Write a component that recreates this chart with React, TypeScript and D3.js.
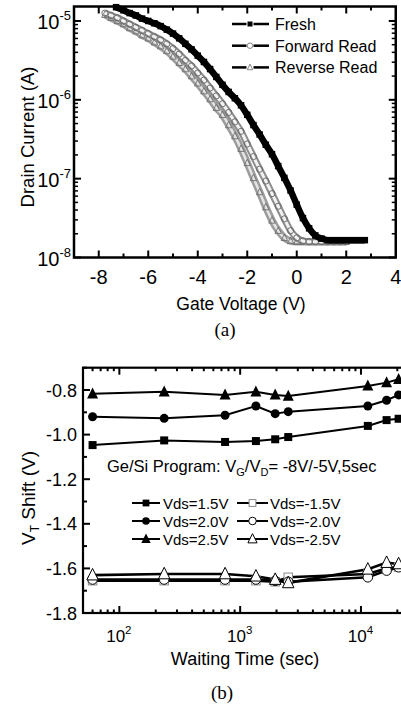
import React from "react";
import * as d3 from "d3";

// ---------- (a) Id-Vg curves: [gate voltage (V), log10 drain current (A)] ----------
const freshCurve: [number, number][] = [
  [-7.3, -4.825], [-7.0, -4.865], [-6.75, -4.9], [-6.5, -4.93], [-6.25, -4.97], [-6.0, -5.0],
  [-5.75, -5.03], [-5.5, -5.065], [-5.25, -5.11], [-5.0, -5.16], [-4.75, -5.22], [-4.5, -5.29],
  [-4.25, -5.36], [-4.0, -5.44], [-3.75, -5.52], [-3.5, -5.61], [-3.25, -5.71], [-3.0, -5.81],
  [-2.75, -5.9], [-2.5, -5.98], [-2.25, -6.07], [-2.0, -6.19], [-1.75, -6.32], [-1.5, -6.44],
  [-1.25, -6.57], [-1.0, -6.69], [-0.75, -6.84], [-0.5, -6.99], [-0.25, -7.15], [0.0, -7.33],
  [0.25, -7.5], [0.5, -7.63], [0.75, -7.72], [1.0, -7.76], [1.25, -7.78], [1.5, -7.78],
  [1.75, -7.78], [2.0, -7.78], [2.25, -7.78], [2.5, -7.78], [2.75, -7.78],
];
const forwardCurve: [number, number][] = [
  [-7.75, -4.9], [-7.5, -4.93], [-7.25, -4.96], [-7.0, -5.0], [-6.75, -5.04], [-6.5, -5.08],
  [-6.25, -5.12], [-6.0, -5.16], [-5.75, -5.2], [-5.5, -5.24], [-5.25, -5.29], [-5.0, -5.35],
  [-4.75, -5.42], [-4.5, -5.5], [-4.25, -5.57], [-4.0, -5.66], [-3.75, -5.75], [-3.5, -5.85],
  [-3.25, -5.95], [-3.0, -6.05], [-2.75, -6.16], [-2.5, -6.28], [-2.25, -6.4], [-2.0, -6.56],
  [-1.75, -6.72], [-1.5, -6.88], [-1.25, -7.03], [-1.0, -7.19], [-0.75, -7.35], [-0.5, -7.51],
  [-0.25, -7.66], [0.0, -7.75], [0.25, -7.79], [0.5, -7.8], [0.75, -7.8], [1.0, -7.8],
  [1.25, -7.8], [1.5, -7.8], [1.75, -7.8], [2.0, -7.8],
];
const reverseCurve: [number, number][] = [
  [-7.75, -4.92], [-7.5, -4.96], [-7.25, -5.0], [-7.0, -5.04], [-6.75, -5.09], [-6.5, -5.13],
  [-6.25, -5.18], [-6.0, -5.22], [-5.75, -5.27], [-5.5, -5.32], [-5.25, -5.38], [-5.0, -5.45],
  [-4.75, -5.53], [-4.5, -5.61], [-4.25, -5.7], [-4.0, -5.79], [-3.75, -5.89], [-3.5, -5.99],
  [-3.25, -6.1], [-3.0, -6.19], [-2.75, -6.32], [-2.5, -6.46], [-2.25, -6.62], [-2.0, -6.8],
  [-1.75, -6.99], [-1.5, -7.17], [-1.25, -7.36], [-1.0, -7.53], [-0.75, -7.66], [-0.5, -7.75],
  [-0.25, -7.79], [0.0, -7.8], [0.25, -7.8], [0.5, -7.8], [0.75, -7.8], [1.0, -7.8],
  [1.25, -7.8], [1.5, -7.8], [1.75, -7.8], [2.0, -7.8],
];
const gateTicks = [-8, -6, -4, -2, 0, 2, 4];
const currentDecades = [-8, -7, -6, -5];
const legendA = ["Fresh", "Forward Read", "Reverse Read"];

// ---------- (b) VT shift vs waiting time ----------
const waitTimes = [60, 235, 750, 1350, 1950, 2500, 11400, 16300, 20500];
const vdsP15 = [-1.047, -1.026, -1.033, -1.029, -1.021, -1.011, -0.961, -0.935, -0.929];
const vdsP20 = [-0.92, -0.927, -0.913, -0.872, -0.906, -0.897, -0.872, -0.846, -0.822];
const vdsP25 = [-0.817, -0.808, -0.822, -0.808, -0.822, -0.827, -0.782, -0.767, -0.752];
const vdsN15 = [-1.655, -1.655, -1.655, -1.655, -1.66, -1.64, -1.625, -1.6, -1.594];
const vdsN20 = [-1.65, -1.65, -1.65, -1.65, -1.656, -1.66, -1.64, -1.61, -1.595];
const vdsN25 = [-1.63, -1.625, -1.625, -1.635, -1.65, -1.665, -1.604, -1.574, -1.58];
const vtTicks = [-1.8, -1.6, -1.4, -1.2, -1.0, -0.8];
const vtMinorTicks = [-1.7, -1.5, -1.3, -1.1, -0.9, -0.7];
const timeDecades = [2, 3, 4];

const SANS = "'Liberation Sans', Arial, Helvetica, sans-serif";
const SERIF = "'Liberation Serif', 'Times New Roman', serif";

type Shape = "square" | "circle" | "triangle";

function Marker({ shape, x, y, s, fill, stroke, sw = 1 }: { shape: Shape; x: number; y: number; s: number; fill: string; stroke: string; sw?: number }) {
  if (shape === "square")
    return <rect x={x - s / 2} y={y - s / 2} width={s} height={s} fill={fill} stroke={stroke} strokeWidth={sw} />;
  if (shape === "circle") return <circle cx={x} cy={y} r={s / 2} fill={fill} stroke={stroke} strokeWidth={sw} />;
  const pts = `${x},${y - s * 0.58} ${x - s / 2},${y + s * 0.42} ${x + s / 2},${y + s * 0.42}`;
  return <polygon points={pts} fill={fill} stroke={stroke} strokeWidth={sw} strokeLinejoin="miter" />;
}

function ChartA() {
  const x = d3.scaleLinear().domain([-9, 4]).range([74, 395.75]);
  const y = d3.scaleLog().domain([1e-8, Math.pow(10, -4.8165)]).range([257.5, 6.5]);
  const [x0, x1] = x.range();
  const [yb, yt] = y.range();
  const line = d3
    .line<[number, number]>()
    .x((d) => x(d[0]))
    .y((d) => y(Math.pow(10, d[1])))
    .curve(d3.curveMonotoneX);

  const xt = d3.range(-8, 4, 1);
  const yMinor: number[] = [];
  currentDecades.forEach((d) => {
    for (let k = 2; k <= 9; k++) {
      const v = k * Math.pow(10, d);
      if (v < y.domain()[1]) yMinor.push(v);
    }
  });

  return (
    <g>
      {/* curves */}
      <path d={line(reverseCurve) || ""} fill="none" stroke="#9c9c9c" strokeWidth={7.5} />
      <path d={line(reverseCurve) || ""} fill="none" stroke="#e4e4e4" strokeWidth={2.5} />
      {reverseCurve.map((d, i) => (
        <Marker key={"r" + i} shape="triangle" x={x(d[0])} y={y(Math.pow(10, d[1]))} s={6.5} fill="none" stroke="#707070" sw={0.9} />
      ))}
      <path d={line(forwardCurve) || ""} fill="none" stroke="#8c8c8c" strokeWidth={7} />
      <path d={line(forwardCurve) || ""} fill="none" stroke="#f2f2f2" strokeWidth={3} />
      {forwardCurve.map((d, i) => (
        <Marker key={"f" + i} shape="circle" x={x(d[0])} y={y(Math.pow(10, d[1]))} s={6.2} fill="none" stroke="#666" sw={0.9} />
      ))}
      <path d={line(freshCurve) || ""} fill="none" stroke="#000" strokeWidth={6.5} />
      {freshCurve.map((d, i) => (
        <Marker key={"s" + i} shape="square" x={x(d[0])} y={y(Math.pow(10, d[1]))} s={6.5} fill="#000" stroke="none" />
      ))}

      {/* frame */}
      <rect x={x0} y={yt} width={x1 - x0} height={yb - yt} fill="none" stroke="#000" strokeWidth={2.5} />
      {/* x ticks */}
      {xt.map((v) => {
        const len = v % 2 === 0 ? 7 : 4;
        return (
          <g key={"xt" + v}>
            <line x1={x(v)} x2={x(v)} y1={yb} y2={yb - len} stroke="#000" strokeWidth={2} />
            <line x1={x(v)} x2={x(v)} y1={yt} y2={yt + len} stroke="#000" strokeWidth={2} />
          </g>
        );
      })}
      {/* y ticks */}
      {currentDecades.map((d) => {
        const yy = y(Math.pow(10, d));
        return (
          <g key={"yd" + d}>
            <line x1={x0} x2={x0 + 7} y1={yy} y2={yy} stroke="#000" strokeWidth={2} />
            <line x1={x1} x2={x1 - 7} y1={yy} y2={yy} stroke="#000" strokeWidth={2} />
          </g>
        );
      })}
      {yMinor.map((v, i) => (
        <g key={"ym" + i}>
          <line x1={x0} x2={x0 + 4} y1={y(v)} y2={y(v)} stroke="#000" strokeWidth={1.5} />
          <line x1={x1} x2={x1 - 4} y1={y(v)} y2={y(v)} stroke="#000" strokeWidth={1.5} />
        </g>
      ))}
      {/* tick labels */}
      {gateTicks.map((v) => (
        <text key={"xl" + v} x={x(v)} y={284} textAnchor="middle" fontSize={20} fontFamily={SANS}>
          {v}
        </text>
      ))}
      {currentDecades.map((d) => (
        <text key={"yl" + d} x={71} y={y(Math.pow(10, d)) + 8} textAnchor="end" fontSize={20} fontFamily={SANS}>
          10
          <tspan dy={-9} fontSize={13}>
            {d}
          </tspan>
        </text>
      ))}
      {/* axis titles */}
      <text x={241} y={310} textAnchor="middle" fontSize={17.5} fontFamily={SANS}>
        Gate Voltage (V)
      </text>
      <text transform="translate(33.5,137) rotate(-90)" textAnchor="middle" fontSize={18.5} fontFamily={SANS}>
        Drain Current (A)
      </text>
      {/* legend */}
      {legendA.map((name, i) => {
        const ly = 24 + i * 21.7;
        const shape: Shape = i === 0 ? "square" : i === 1 ? "circle" : "triangle";
        return (
          <g key={"lg" + i}>
            <line x1={232} x2={246.5} y1={ly} y2={ly} stroke="#000" strokeWidth={2.5} />
            <line x1={253.5} x2={269} y1={ly} y2={ly} stroke="#000" strokeWidth={2.5} />
            <Marker
              shape={shape}
              x={250}
              y={ly}
              s={i === 0 ? 5 : 5.5}
              fill={i === 0 ? "#000" : "#fff"}
              stroke={i === 0 ? "none" : "#777"}
              sw={0.9}
            />
            <text x={275} y={ly + 6} fontSize={16} fontFamily={SANS}>
              {name}
            </text>
          </g>
        );
      })}
      <text x={225} y={336} textAnchor="middle" fontSize={19} fontFamily={SERIF}>
        (a)
      </text>
    </g>
  );
}

function ChartB() {
  const x = d3.scaleLog().domain([50, 30000]).range([83, 83 + 120.8 * Math.log10(600)]);
  const y = d3.scaleLinear().domain([-1.8, -0.7]).range([613, 367.7]);
  const [x0, x1] = x.range();
  const [yb, yt] = y.range();
  const line = d3
    .line<number>()
    .x((_, i) => x(waitTimes[i]))
    .y((d) => y(d));

  const minorX: number[] = [];
  [1, 2, 3, 4].forEach((d) => {
    for (let k = 2; k <= 9; k++) {
      const v = k * Math.pow(10, d);
      if (v > 50 && v < 30000) minorX.push(v);
    }
  });

  const filled: { vals: number[]; shape: Shape; s: number; label: string }[] = [
    { vals: vdsP15, shape: "square", s: 8, label: "Vds=1.5V" },
    { vals: vdsP20, shape: "circle", s: 9, label: "Vds=2.0V" },
    { vals: vdsP25, shape: "triangle", s: 11, label: "Vds=2.5V" },
  ];
  const hollow: { vals: number[]; shape: Shape; s: number; stroke: string; label: string }[] = [
    { vals: vdsN15, shape: "square", s: 8.5, stroke: "#8a8a8a", label: "Vds=-1.5V" },
    { vals: vdsN20, shape: "circle", s: 9.5, stroke: "#000", label: "Vds=-2.0V" },
    { vals: vdsN25, shape: "triangle", s: 11.5, stroke: "#000", label: "Vds=-2.5V" },
  ];
  const legendRows = [503, 521, 539];

  return (
    <g>
      {/* frame */}
      <rect x={x0} y={yt} width={x1 - x0} height={yb - yt} fill="none" stroke="#000" strokeWidth={2.2} />
      {/* ticks */}
      {vtTicks.map((v) => (
        <line key={"ym" + v} x1={x0} x2={x0 + 7} y1={y(v)} y2={y(v)} stroke="#000" strokeWidth={2} />
      ))}
      {vtMinorTicks.map((v) => (
        <line key={"yn" + v} x1={x0} x2={x0 + 4} y1={y(v)} y2={y(v)} stroke="#000" strokeWidth={2} />
      ))}
      {timeDecades.map((d) => {
        const xx = x(Math.pow(10, d));
        return (
          <g key={"xd" + d}>
            <line x1={xx} x2={xx} y1={yb} y2={yb - 7} stroke="#000" strokeWidth={2} />
            <line x1={xx} x2={xx} y1={yt} y2={yt + 7} stroke="#000" strokeWidth={2} />
          </g>
        );
      })}
      {minorX.map((v, i) => (
        <g key={"xm" + i}>
          <line x1={x(v)} x2={x(v)} y1={yb} y2={yb - 3.5} stroke="#000" strokeWidth={2} />
          <line x1={x(v)} x2={x(v)} y1={yt} y2={yt + 3.5} stroke="#000" strokeWidth={2} />
        </g>
      ))}
      {/* tick labels */}
      {vtTicks.map((v) => (
        <text key={"yl" + v} x={77} y={y(v) + 6.5} textAnchor="end" fontSize={18} fontFamily={SANS}>
          {v.toFixed(1)}
        </text>
      ))}
      {timeDecades.map((d) => (
        <text key={"xl" + d} x={x(Math.pow(10, d)) - 0.5} y={641.5} textAnchor="middle" fontSize={17} fontFamily={SANS}>
          10
          <tspan dy={-7.5} fontSize={11.5}>
            {d}
          </tspan>
        </text>
      ))}
      {/* hollow series */}
      {hollow.map((s, k) => (
        <path key={"hl" + k} d={line(s.vals) || ""} fill="none" stroke="#000" strokeWidth={2.6} />
      ))}
      {hollow.map((s, k) =>
        s.vals.map((v, i) => (
          <Marker key={"hm" + k + "-" + i} shape={s.shape} x={x(waitTimes[i])} y={y(v)} s={s.s} fill="#fff" stroke={s.stroke} sw={1} />
        ))
      )}
      {/* filled series */}
      {filled.map((s, k) => (
        <path key={"fl" + k} d={line(s.vals) || ""} fill="none" stroke="#000" strokeWidth={2} />
      ))}
      {filled.map((s, k) =>
        s.vals.map((v, i) => (
          <Marker key={"fm" + k + "-" + i} shape={s.shape} x={x(waitTimes[i])} y={y(v)} s={s.s} fill="#000" stroke="none" />
        ))
      )}
      {/* annotation */}
      <text x={107} y={471.5} fontSize={16.5} fontFamily={SANS}>
        Ge/Si Program: V
        <tspan dy={4} fontSize={11}>
          G
        </tspan>
        <tspan dy={-4}>/V</tspan>
        <tspan dy={4} fontSize={11}>
          D
        </tspan>
        <tspan dy={-4}>= -8V/-5V,5sec</tspan>
      </text>
      {/* legend */}
      {filled.map((s, k) => (
        <g key={"lf" + k}>
          <line x1={132} x2={160} y1={legendRows[k]} y2={legendRows[k]} stroke="#000" strokeWidth={2} />
          <Marker shape={s.shape} x={146} y={legendRows[k]} s={s.s * 0.85} fill="#000" stroke="none" />
          <text x={163} y={legendRows[k] + 5.5} fontSize={15} fontFamily={SANS}>
            {s.label}
          </text>
        </g>
      ))}
      {hollow.map((s, k) => (
        <g key={"lh" + k}>
          <line x1={237} x2={268} y1={legendRows[k]} y2={legendRows[k]} stroke="#000" strokeWidth={2} />
          <Marker shape={s.shape} x={252.5} y={legendRows[k]} s={s.s * 0.8} fill="#fff" stroke={s.stroke} sw={1} />
          <text x={270} y={legendRows[k] + 5.5} fontSize={15} fontFamily={SANS}>
            {s.label}
          </text>
        </g>
      ))}
      {/* axis titles */}
      <text x={245} y={665} textAnchor="middle" fontSize={18} fontFamily={SANS}>
        Waiting Time (sec)
      </text>
      <text transform="translate(35,498) rotate(-90)" textAnchor="middle" fontSize={19} fontFamily={SANS}>
        V
        <tspan dy={4} fontSize={12}>
          T
        </tspan>
        <tspan dy={-4}> Shift (V)</tspan>
      </text>
      <text x={222} y={699} textAnchor="middle" fontSize={19} fontFamily={SERIF}>
        (b)
      </text>
    </g>
  );
}

export default function App() {
  return (
    <svg
      width={401}
      height={708}
      viewBox="0 0 401 708"
      style={{ position: "absolute", left: 0, top: 0, background: "#fff", display: "block" }}
    >
      <rect x={0} y={0} width={401} height={708} fill="#fff" />
      <ChartA />
      <ChartB />
    </svg>
  );
}
